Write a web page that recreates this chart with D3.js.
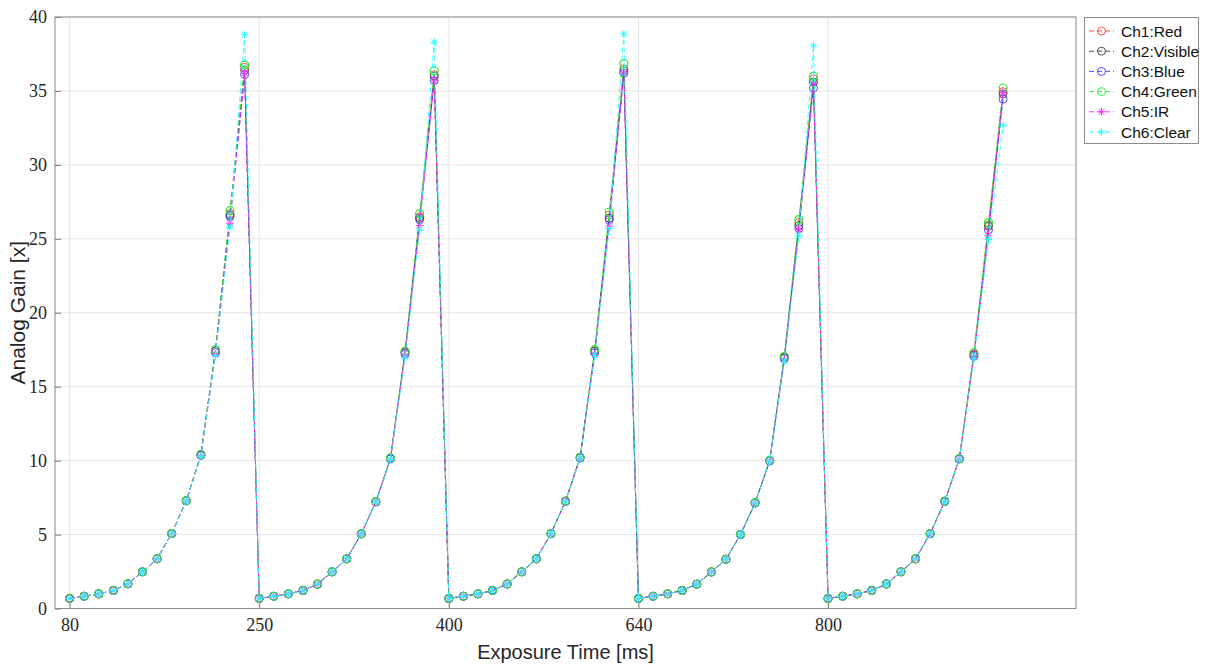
<!DOCTYPE html>
<html>
<head>
<meta charset="utf-8">
<script src="https://cdn.jsdelivr.net/npm/d3@7"></script>
<style>
  html, body { margin: 0; padding: 0; background: #fff; }
  svg { display: block; }
  .tick text { font-family: "Liberation Serif", "DejaVu Serif", serif; }
</style>
</head>
<body>
<svg id="chart" width="1205" height="664"></svg>
<script>
// Analog gain per sample index, five exposure sweeps of 13 samples each.
const seriesNames = ["Ch1:Red", "Ch2:Visible", "Ch3:Blue", "Ch4:Green", "Ch5:IR", "Ch6:Clear"];
const seriesColors = ["#ff3b3b", "#3a3a3a", "#3b3bff", "#2ee62e", "#ff20ff", "#20ffff"];
const seriesMarkers = ["circle", "circle", "circle", "circle", "star", "star"];

const ch1Red = [
  0.68, 0.83, 0.99, 1.22, 1.67, 2.48, 3.36, 5.07, 7.28, 10.39, 17.45, 26.7, 36.6,
  0.68, 0.83, 0.99, 1.22, 1.65, 2.48, 3.36, 5.05, 7.22, 10.15, 17.35, 26.5, 36.1,
  0.68, 0.83, 0.99, 1.22, 1.66, 2.48, 3.36, 5.06, 7.26, 10.2, 17.45, 26.6, 36.5,
  0.68, 0.83, 0.99, 1.22, 1.65, 2.47, 3.33, 5.0, 7.15, 10.0, 17.0, 26.1, 35.8,
  0.68, 0.83, 0.99, 1.22, 1.66, 2.48, 3.36, 5.06, 7.25, 10.12, 17.2, 25.95, 34.95
];
const ch2Visible = [
  0.68, 0.83, 0.99, 1.22, 1.67, 2.48, 3.36, 5.07, 7.28, 10.39, 17.4, 26.6, 36.4,
  0.68, 0.83, 0.99, 1.22, 1.65, 2.48, 3.36, 5.05, 7.22, 10.15, 17.3, 26.4, 36.0,
  0.68, 0.83, 0.99, 1.22, 1.66, 2.48, 3.36, 5.06, 7.26, 10.2, 17.4, 26.4, 36.35,
  0.68, 0.83, 0.99, 1.22, 1.65, 2.47, 3.33, 5.0, 7.15, 10.0, 16.95, 25.9, 35.6,
  0.68, 0.83, 0.99, 1.22, 1.66, 2.48, 3.36, 5.06, 7.25, 10.12, 17.15, 25.85, 34.8
];
const ch3Blue = [
  0.68, 0.83, 0.99, 1.22, 1.67, 2.48, 3.36, 5.07, 7.28, 10.35, 17.3, 26.5, 36.1,
  0.68, 0.83, 0.99, 1.22, 1.64, 2.48, 3.36, 5.05, 7.2, 10.12, 17.2, 26.3, 35.7,
  0.68, 0.83, 0.99, 1.22, 1.65, 2.48, 3.36, 5.06, 7.24, 10.18, 17.3, 26.3, 36.2,
  0.68, 0.83, 0.99, 1.22, 1.64, 2.47, 3.33, 5.0, 7.13, 9.98, 16.9, 25.7, 35.2,
  0.68, 0.83, 0.99, 1.22, 1.65, 2.48, 3.36, 5.06, 7.23, 10.1, 17.05, 25.6, 34.45
];
const ch4Green = [
  0.68, 0.83, 0.99, 1.22, 1.67, 2.48, 3.36, 5.07, 7.29, 10.42, 17.5, 26.9, 36.75,
  0.68, 0.83, 0.99, 1.22, 1.65, 2.48, 3.36, 5.05, 7.23, 10.18, 17.4, 26.7, 36.35,
  0.68, 0.83, 0.99, 1.22, 1.66, 2.48, 3.36, 5.06, 7.27, 10.22, 17.5, 26.8, 36.85,
  0.68, 0.83, 0.99, 1.22, 1.65, 2.47, 3.33, 5.0, 7.16, 10.02, 17.05, 26.3, 36.0,
  0.68, 0.83, 0.99, 1.22, 1.66, 2.48, 3.36, 5.06, 7.26, 10.14, 17.3, 26.1, 35.2
];
const ch5IR = [
  0.68, 0.83, 0.99, 1.22, 1.67, 2.48, 3.36, 5.07, 7.27, 10.33, 17.2, 26.05, 36.2,
  0.68, 0.83, 0.99, 1.22, 1.65, 2.48, 3.36, 5.05, 7.2, 10.1, 17.1, 25.9, 35.7,
  0.68, 0.83, 0.99, 1.22, 1.66, 2.48, 3.36, 5.06, 7.24, 10.15, 17.2, 25.85, 36.2,
  0.68, 0.83, 0.99, 1.22, 1.65, 2.47, 3.33, 5.0, 7.13, 9.97, 16.8, 25.6, 35.5,
  0.68, 0.83, 0.99, 1.22, 1.66, 2.48, 3.36, 5.06, 7.23, 10.08, 17.0, 25.2, 34.9
];
const ch6Clear = [
  0.68, 0.83, 0.99, 1.22, 1.67, 2.48, 3.36, 5.06, 7.26, 10.3, 17.1, 25.8, 38.8,
  0.68, 0.83, 0.99, 1.22, 1.65, 2.48, 3.36, 5.04, 7.19, 10.08, 17.0, 25.6, 38.3,
  0.68, 0.83, 0.99, 1.22, 1.66, 2.48, 3.36, 5.05, 7.23, 10.12, 17.1, 25.7, 38.85,
  0.68, 0.83, 0.99, 1.22, 1.65, 2.47, 3.33, 4.99, 7.12, 9.95, 16.7, 25.2, 38.05,
  0.68, 0.83, 0.99, 1.22, 1.66, 2.48, 3.36, 5.05, 7.22, 10.05, 16.9, 24.95, 32.67
];
const seriesValues = [ch1Red, ch2Visible, ch3Blue, ch4Green, ch5IR, ch6Clear];

// Sample index of each labelled exposure and its label
const xTickIndex = [1, 14, 27, 40, 53];
const xTickLabels = ["80", "250", "400", "640", "800"];
const yTicks = [0, 5, 10, 15, 20, 25, 30, 35, 40];

const svg = d3.select("#chart");
const m = { left: 55, right: 1076, top: 17, bottom: 608.5 };

const x = d3.scaleLinear().domain([0, 70]).range([m.left, m.right]);
const y = d3.scaleLinear().domain([0, 40]).range([m.bottom, m.top]);

// grid
const grid = svg.append("g");
grid.selectAll("line.gx").data(xTickIndex).join("line")
  .attr("x1", d => x(d)).attr("x2", d => x(d))
  .attr("y1", m.top).attr("y2", m.bottom)
  .attr("stroke", "#e6e6e6").attr("stroke-width", 1);
grid.selectAll("line.gy").data(yTicks).join("line")
  .attr("x1", m.left).attr("x2", m.right)
  .attr("y1", d => y(d)).attr("y2", d => y(d))
  .attr("stroke", "#e6e6e6").attr("stroke-width", 1);

// axes (ticks point inward)
const xAxis = d3.axisBottom(x).tickValues(xTickIndex)
  .tickFormat((d, i) => xTickLabels[i]).tickSize(-6).tickPadding(10);
const yAxis = d3.axisLeft(y).tickValues(yTicks).tickSize(-6).tickPadding(8);

const gx = svg.append("g").attr("transform", `translate(0,${m.bottom})`).call(xAxis);
const gy = svg.append("g").attr("transform", `translate(${m.left},0)`).call(yAxis);
[gx, gy].forEach(g => {
  g.attr("font-family", null).attr("font-size", null);
  g.select(".domain").remove();
  g.selectAll(".tick line").attr("stroke", "#7a7a7a");
  g.selectAll(".tick text")
    .style("font-family", "'Liberation Serif', 'DejaVu Serif', serif")
    .style("font-size", "18px").attr("fill", "#262626");
});

// box
svg.append("rect")
  .attr("x", m.left).attr("y", m.top)
  .attr("width", m.right - m.left).attr("height", m.bottom - m.top)
  .attr("fill", "none").attr("stroke", "#8a8a8a").attr("stroke-width", 1);

// series
const line = d3.line().x((d, i) => x(i + 1)).y(d => y(d));

const starPath = r => {
  const d = r * Math.SQRT1_2;
  return `M${-r},0L${r},0M0,${-r}L0,${r}M${-d},${-d}L${d},${d}M${-d},${d}L${d},${-d}`;
};

function drawMarker(g, type, color, cx, cy, w) {
  if (type === "circle") {
    g.append("circle").attr("cx", cx).attr("cy", cy).attr("r", 4)
      .attr("fill", "none").attr("stroke", color).attr("stroke-width", w);
  } else {
    g.append("path").attr("d", starPath(4)).attr("transform", `translate(${cx},${cy})`)
      .attr("fill", "none").attr("stroke", color).attr("stroke-width", w);
  }
}

seriesValues.forEach((vals, k) => {
  const g = svg.append("g");
  g.append("path").attr("d", line(vals))
    .attr("fill", "none").attr("stroke", seriesColors[k])
    .attr("stroke-width", 0.9).attr("stroke-dasharray", "5,3");
  // the last circle series is drawn a touch heavier so it sits cleanly over the others
  const w = k === 3 ? 1.2 : 0.9;
  vals.forEach((v, i) => drawMarker(g, seriesMarkers[k], seriesColors[k], x(i + 1), y(v), w));
});

// axis titles
svg.append("text")
  .attr("x", (m.left + m.right) / 2).attr("y", 659)
  .attr("text-anchor", "middle")
  .style("font-family", "'Liberation Sans', Arial, sans-serif")
  .style("font-size", "20px").attr("fill", "#262626")
  .text("Exposure Time [ms]");
svg.append("text")
  .attr("transform", `translate(25,${(m.top + m.bottom) / 2}) rotate(-90)`)
  .attr("text-anchor", "middle")
  .style("font-family", "'Liberation Sans', Arial, sans-serif")
  .style("font-size", "21px").attr("fill", "#262626")
  .text("Analog Gain [x]");

// legend
const lg = svg.append("g");
lg.append("rect").attr("x", 1084.5).attr("y", 17.5).attr("width", 114).attr("height", 126)
  .attr("fill", "#fff").attr("stroke", "#8a8a8a").attr("stroke-width", 1);
seriesNames.forEach((name, k) => {
  const cy = 31 + k * 20.2;
  lg.append("line").attr("x1", 1089).attr("x2", 1114).attr("y1", cy).attr("y2", cy)
    .attr("stroke", seriesColors[k]).attr("stroke-width", 0.9).attr("stroke-dasharray", "5,3");
  drawMarker(lg, seriesMarkers[k], seriesColors[k], 1101.5, cy, 0.9);
  lg.append("text").attr("x", 1121).attr("y", cy + 5.5)
    .style("font-family", "'Liberation Sans', Arial, sans-serif")
    .style("font-size", "15.5px").attr("fill", "#111")
    .text(name);
});
</script>
</body>
</html>
